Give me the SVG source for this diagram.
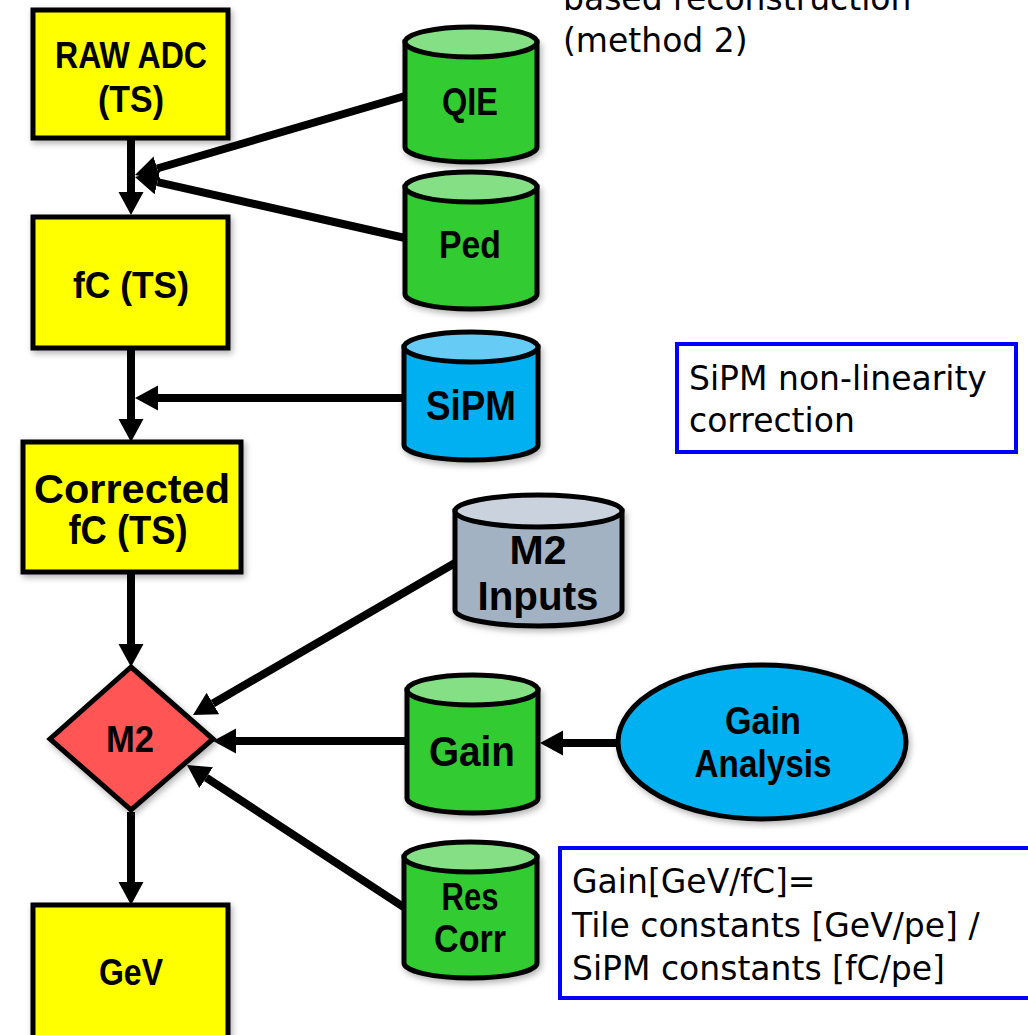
<svg xmlns="http://www.w3.org/2000/svg" width="1028" height="1035" viewBox="0 0 1028 1035">
<style>
.box{fill:#FFFF00;stroke:#000;stroke-width:5}
.lbl{font-family:"Liberation Sans",Arial,sans-serif;font-weight:bold;fill:#000;text-anchor:middle}
.note{font-family:"DejaVu Sans",Verdana,sans-serif;font-size:33px;fill:#000}
.nbox{fill:#fff;stroke:#0000FF;stroke-width:4}
.cyl{stroke:#000;stroke-width:5}
.conn{stroke:#000;stroke-width:8;fill:none;marker-end:url(#arr)}
.g .body{fill:#33CC33}.g .top{fill:#85E085}
.b .body{fill:#00B0F0}.b .top{fill:#66CCF5}
.s .body{fill:#A3B2C3}.s .top{fill:#C9D2DD}
</style>
<defs>
<filter id="sh" x="-20%" y="-20%" width="140%" height="140%">
<feDropShadow dx="2" dy="3" stdDeviation="3" flood-color="#000" flood-opacity="0.3"/>
</filter>
<marker id="arr" markerUnits="userSpaceOnUse" markerWidth="24" markerHeight="26" refX="0" refY="12.5" orient="auto">
<path d="M0,0 L23,12.5 L0,25 Z" fill="#000"/>
</marker>
</defs>
<rect width="1028" height="1035" fill="#fff"/>

<g id="connectors">
<line class="conn" x1="131" y1="140" x2="131" y2="192"/>
<line class="conn" x1="405" y1="96" x2="157.1" y2="168.5"/>
<line class="conn" x1="405" y1="238" x2="157.4" y2="182.1"/>
<line class="conn" x1="131" y1="350" x2="131" y2="419"/>
<line class="conn" x1="405" y1="398" x2="158" y2="398"/>
<line class="conn" x1="131" y1="574" x2="131" y2="644"/>
<line class="conn" x1="455" y1="563" x2="212.9" y2="703.5"/>
<line class="conn" x1="407" y1="741" x2="236" y2="741"/>
<line class="conn" x1="405" y1="908" x2="206.2" y2="777.6"/>
<line class="conn" x1="619" y1="743" x2="563" y2="743"/>
<line class="conn" x1="131" y1="812" x2="131" y2="882"/>
</g>

<g id="raw-adc">
<rect class="box" x="33" y="10" width="195" height="128" filter="url(#sh)"/>
<text class="lbl" x="131" y="68" font-size="37" textLength="152" lengthAdjust="spacingAndGlyphs">RAW ADC</text>
<text class="lbl" x="131" y="112" font-size="37" textLength="66" lengthAdjust="spacingAndGlyphs">(TS)</text>
</g>

<g id="fc">
<rect class="box" x="33" y="217" width="195" height="131" filter="url(#sh)"/>
<text class="lbl" x="131" y="298" font-size="37" textLength="116" lengthAdjust="spacingAndGlyphs">fC (TS)</text>
</g>

<g id="corrected">
<rect class="box" x="23" y="442" width="218" height="130" filter="url(#sh)"/>
<text class="lbl" x="132" y="503" font-size="41" textLength="196" lengthAdjust="spacingAndGlyphs">Corrected</text>
<text class="lbl" x="128" y="544" font-size="40" textLength="119" lengthAdjust="spacingAndGlyphs">fC (TS)</text>
</g>

<g id="m2">
<polygon points="131,667 213,739 131,810 50,739" fill="#FF5454" stroke="#000" stroke-width="5" filter="url(#sh)"/>
<text class="lbl" x="130" y="752" font-size="37" textLength="48" lengthAdjust="spacingAndGlyphs">M2</text>
</g>

<g id="gev">
<rect class="box" x="33" y="905" width="195" height="140" filter="url(#sh)"/>
<text class="lbl" x="131" y="985" font-size="37" textLength="64" lengthAdjust="spacingAndGlyphs">GeV</text>
</g>

<g id="qie" class="g">
<path class="cyl body" d="M405,42 V147 A66,15 0 0 0 537,147 V42 Z" filter="url(#sh)"/>
<ellipse class="cyl top" cx="471" cy="42" rx="66" ry="15"/>
<text class="lbl" x="470" y="115" font-size="38" textLength="56" lengthAdjust="spacingAndGlyphs">QIE</text>
</g>

<g id="ped" class="g">
<path class="cyl body" d="M405,187 V294 A66,15 0 0 0 537,294 V187 Z" filter="url(#sh)"/>
<ellipse class="cyl top" cx="471" cy="187" rx="66" ry="15"/>
<text class="lbl" x="470" y="258" font-size="38" textLength="62" lengthAdjust="spacingAndGlyphs">Ped</text>
</g>

<g id="sipm" class="b">
<path class="cyl body" d="M404,347 V445 A67,15 0 0 0 538,445 V347 Z" filter="url(#sh)"/>
<ellipse class="cyl top" cx="471" cy="347" rx="67" ry="15"/>
<text class="lbl" x="471" y="420" font-size="42" textLength="90" lengthAdjust="spacingAndGlyphs">SiPM</text>
</g>

<g id="m2-inputs" class="s">
<path class="cyl body" d="M455,511 V610 A83.5,16 0 0 0 622,610 V511 Z" filter="url(#sh)"/>
<ellipse class="cyl top" cx="538.5" cy="511" rx="83.5" ry="16"/>
<text class="lbl" x="538" y="564" font-size="41" textLength="57" lengthAdjust="spacingAndGlyphs">M2</text>
<text class="lbl" x="538" y="610" font-size="41" textLength="121" lengthAdjust="spacingAndGlyphs">Inputs</text>
</g>

<g id="gain" class="g">
<path class="cyl body" d="M407,690 V798 A65.5,15 0 0 0 538,798 V690 Z" filter="url(#sh)"/>
<ellipse class="cyl top" cx="472.5" cy="690" rx="65.5" ry="15"/>
<text class="lbl" x="472" y="766" font-size="42" textLength="86" lengthAdjust="spacingAndGlyphs">Gain</text>
</g>

<g id="res-corr" class="g">
<path class="cyl body" d="M404,857 V963 A66.5,15 0 0 0 537,963 V857 Z" filter="url(#sh)"/>
<ellipse class="cyl top" cx="470.5" cy="857" rx="66.5" ry="15"/>
<text class="lbl" x="470" y="910" font-size="38" textLength="57" lengthAdjust="spacingAndGlyphs">Res</text>
<text class="lbl" x="470" y="952" font-size="38" textLength="72" lengthAdjust="spacingAndGlyphs">Corr</text>
</g>

<g id="gain-analysis">
<ellipse cx="762" cy="742" rx="144" ry="77" fill="#00B0F0" stroke="#000" stroke-width="5" filter="url(#sh)"/>
<text class="lbl" x="763" y="734" font-size="38" textLength="76" lengthAdjust="spacingAndGlyphs">Gain</text>
<text class="lbl" x="763" y="777" font-size="38" textLength="137" lengthAdjust="spacingAndGlyphs">Analysis</text>
</g>

<g id="title-note">
<text class="note" x="563" y="10">based reconstruction</text>
<text class="note" x="563" y="52">(method 2)</text>
</g>

<g id="sipm-note">
<rect class="nbox" x="677" y="344" width="339" height="108"/>
<text class="note" x="689" y="390">SiPM non-linearity</text>
<text class="note" x="689" y="432">correction</text>
</g>

<g id="gain-note">
<rect class="nbox" x="560" y="848" width="475" height="150"/>
<text class="note" x="572" y="893">Gain[GeV/fC]=</text>
<text class="note" x="572" y="937">Tile constants [GeV/pe] /</text>
<text class="note" x="572" y="980">SiPM constants [fC/pe]</text>
</g>
</svg>
